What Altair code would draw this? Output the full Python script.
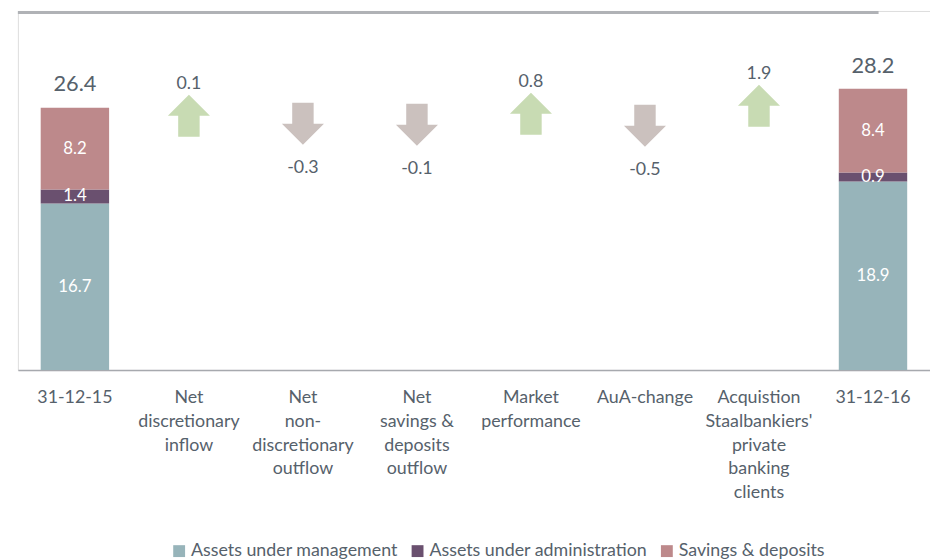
import altair as alt
import pandas as pd

# ---- data ----
categories = [
    "31-12-15",
    "Net\ndiscretionary\ninflow",
    "Net\nnon-\ndiscretionary\noutflow",
    "Net\nsavings &\ndeposits\noutflow",
    "Market\nperformance",
    "AuA-change",
    "Acquistion\nStaalbankiers'\nprivate\nbanking\nclients",
    "31-12-16",
]
segments = ["Assets under management", "Assets under administration", "Savings & deposits"]
start_values = [16.7, 1.4, 8.2]
end_values = [18.9, 0.9, 8.4]
totals = [26.4, 28.2]

change_categories = categories[1:7]
change_values = [0.1, -0.3, -0.1, 0.8, -0.5, 1.9]
arrow_levels = [25.5, 24.7, 24.6, 25.7, 24.5, 26.5]

# ---- styles ----
seg_colors = ["#97b4ba", "#6a506f", "#bd898b"]
up_color = "#c8dbb3"
down_color = "#cbc1be"
text_color = "#56616b"
font = "Lato"
up_path = "M0,-1 L1,0 L0.51,0 L0.51,1 L-0.51,1 L-0.51,0 L-1,0 Z"
down_path = "M-0.51,-1 L0.51,-1 L0.51,0 L1,0 L0,1 L-1,0 L-0.51,0 Z"

# ---- tables ----
rows = []
for cat, vals in [(categories[0], start_values), (categories[-1], end_values)]:
    for i, (s, v) in enumerate(zip(segments, vals)):
        rows.append({"category": cat, "segment": s, "value": v, "order": i, "vlabel": f"{v:.1f}"})
stack_df = pd.DataFrame(rows)

tot_df = pd.DataFrame({
    "category": [categories[0], categories[-1]],
    "total": totals,
    "label": [f"{t:.1f}" for t in totals],
})

chg_df = pd.DataFrame({
    "category": change_categories,
    "change": change_values,
    "level": arrow_levels,
    "label": [f"{v:.1f}" for v in change_values],
})

yscale = alt.Scale(domain=[0, 36], nice=False, zero=True)
x_enc = alt.X(
    "category:N",
    sort=categories,
    scale=alt.Scale(domain=categories, paddingInner=0.4, paddingOuter=0.2),
    axis=alt.Axis(
        title=None,
        labelAngle=0,
        ticks=False,
        labelExpr="split(datum.label, '\\n')",
        labelFont=font,
        labelFontSize=18,
        labelColor=text_color,
        labelLineHeight=24,
        labelPadding=19,
        labelLimit=0,
        domainColor="#a7a9ae",
        domainWidth=1.5,
        grid=False,
    ),
)

bars = (
    alt.Chart(stack_df)
    .transform_stack(stack="value", groupby=["category"], as_=["v0", "v1"],
                     sort=[alt.SortField("order", order="ascending")])
    .mark_bar()
    .encode(
        x=x_enc,
        y=alt.Y("v0:Q", scale=yscale, axis=None),
        y2="v1:Q",
        color=alt.Color(
            "segment:N",
            scale=alt.Scale(domain=segments, range=seg_colors),
            legend=alt.Legend(
                title=None,
                orient="none",
                legendX=154,
                legendY=537,
                direction="horizontal",
                symbolType="square",
                symbolSize=144,
                symbolStrokeWidth=0,
                symbolOpacity=1,
                labelFont=font,
                labelFontSize=18,
                labelColor=text_color,
                labelOffset=3,
                columnPadding=10,
                labelLimit=0,
            ),
        ),
    )
)

seg_text = (
    alt.Chart(stack_df)
    .transform_stack(stack="value", groupby=["category"], as_=["v0", "v1"],
                     sort=[alt.SortField("order", order="ascending")])
    .transform_calculate(mid="(datum.v0 + datum.v1) / 2")
    .mark_text(color="white", font=font, fontSize=17, baseline="middle")
    .encode(x=x_enc, y=alt.Y("mid:Q", scale=yscale), text="vlabel:N")
)

tot_text = (
    alt.Chart(tot_df)
    .mark_text(color=text_color, font=font, fontSize=22, baseline="alphabetic", dy=-16)
    .encode(x=x_enc, y=alt.Y("total:Q", scale=yscale), text="label:N")
)

arrows = (
    alt.Chart(chg_df)
    .mark_point(filled=True, opacity=1, strokeWidth=0, size=1806)
    .encode(
        x=x_enc,
        y=alt.Y("level:Q", scale=yscale),
        shape=alt.condition("datum.change > 0", alt.value(up_path), alt.value(down_path)),
        fill=alt.condition("datum.change > 0", alt.value(up_color), alt.value(down_color)),
    )
)

up_text = (
    alt.Chart(chg_df)
    .transform_filter("datum.change > 0")
    .mark_text(color=text_color, font=font, fontSize=18, baseline="middle", dy=-32)
    .encode(x=x_enc, y=alt.Y("level:Q", scale=yscale), text="label:N")
)

down_text = (
    alt.Chart(chg_df)
    .transform_filter("datum.change < 0")
    .mark_text(color=text_color, font=font, fontSize=18, baseline="middle", dy=45)
    .encode(x=x_enc, y=alt.Y("level:Q", scale=yscale), text="label:N")
)

top_line = (
    alt.Chart(pd.DataFrame({"k": [0]}))
    .mark_rule(color="#b0b2b6", strokeWidth=3)
    .encode(x=alt.value(0), x2=alt.value(870), y=alt.value(1.5))
)

chart = (
    alt.layer(bars, seg_text, tot_text, arrows, up_text, down_text, top_line)
    .properties(width=922, height=363, padding={"left": 8, "top": 0, "right": 0, "bottom": 0})
    .configure_view(strokeWidth=0)
    .configure(font=font)
)

chart.save("out.html", embed_options={"renderer": "svg", "actions": False})
